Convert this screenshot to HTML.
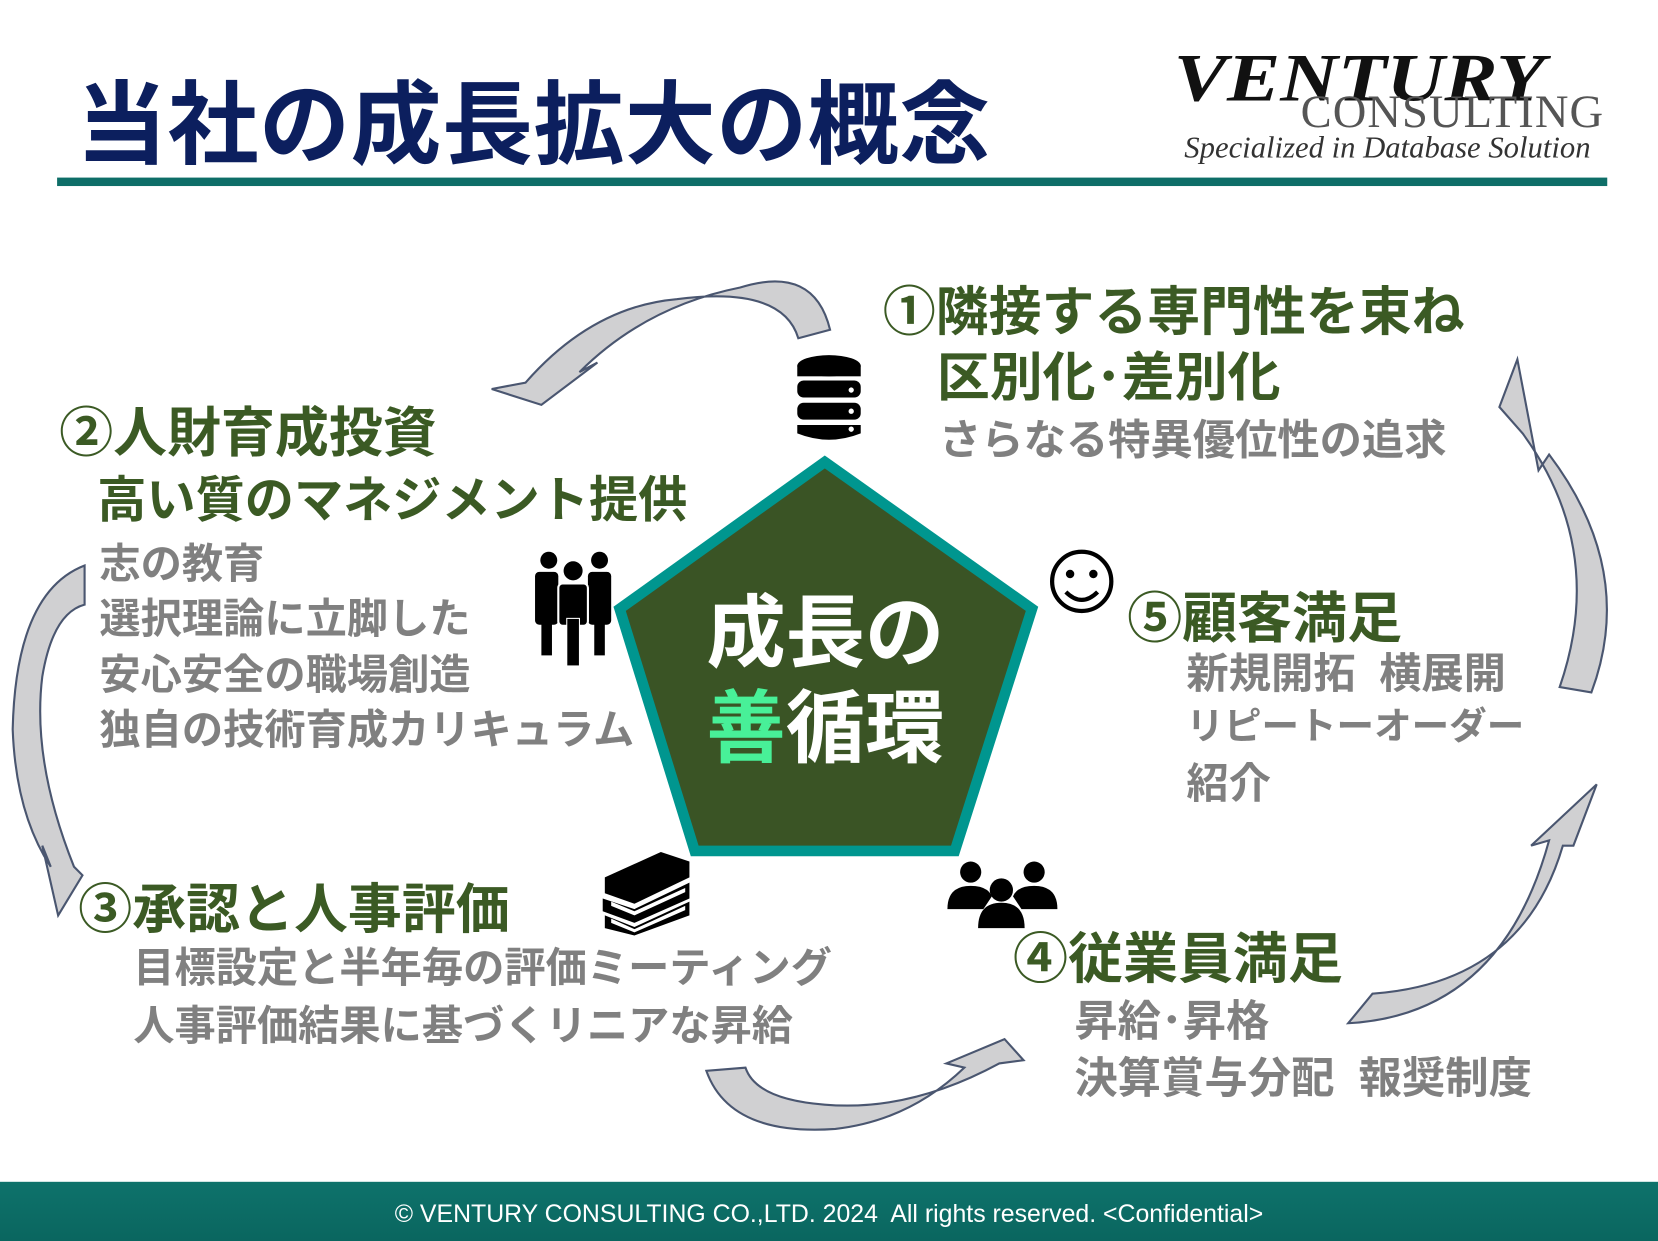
<!DOCTYPE html>
<html><head><meta charset="utf-8"><style>
html,body{margin:0;padding:0;background:#fff;width:1658px;height:1241px;overflow:hidden}
#s{position:absolute;left:0;top:0;width:1568px;height:1174px;transform:scale(1.05740,1.05707);transform-origin:0 0}
.t{position:absolute;white-space:nowrap;font-family:"Liberation Sans","Noto Sans CJK JP",sans-serif;font-weight:bold;line-height:1}
.g{color:#3b5a24}
.y{color:#808080}
</style></head><body><div id="s">
<div class="t" style="left:72px;top:76px;font-size:86px;color:#0c1f5e;letter-spacing:0.5px">当社の成長拡大の概念</div>
<div class="t" style="left:1110px;top:42px;font-size:64px;font-family:'Liberation Serif',serif;font-style:italic;color:#111;transform:scaleX(1.18);transform-origin:0 0">VENTURY</div>
<div class="t" style="left:1230px;top:84px;font-size:44px;font-family:'Liberation Serif',serif;font-weight:normal;color:#555;letter-spacing:1px">CONSULTING</div>
<div class="t" style="left:1120px;top:126px;font-size:29px;font-family:'Liberation Serif',serif;font-style:italic;font-weight:normal;color:#333">Specialized in Database Solution</div>
<div style="position:absolute;left:54px;top:168px;width:1466px;height:8px;background:#0e6e68"></div>

<svg style="position:absolute;left:0;top:0" width="1568" height="1174">
<g fill="#d0d0d2" stroke="#4a5670" stroke-width="2">
<path d="M785,312 Q770,250 700,272 Q610,290 548,352 L565,343 L512,383 L465,368 L497,362 Q560,290 640,283 Q740,270 755,320 Z"/>
<path d="M80,535 Q15,560 12,690 Q15,770 48,820 L40,800 L55,866 L78,828 L70,820 Q30,720 40,640 Q50,580 80,572 Z"/>
<path d="M668,1013 Q690,1075 790,1068 Q860,1060 912,1010 L895,1006 L950,983 L968,1003 L945,1006 Q860,1052 780,1045 Q715,1040 705,1010 Z"/>
<path d="M1275,968 Q1420,960 1465,795 L1448,800 L1510,742 L1488,800 L1478,800 Q1440,930 1298,940 Z"/>
<path d="M1505,655 Q1548,540 1465,430 L1455,445 L1435,340 L1418,385 L1440,410 Q1520,520 1475,650 Z"/>
</g>
<polygon points="780,437 976,576 903,805 657,805 586,576" fill="#3a5425" stroke="#00968f" stroke-width="10"/>
<g fill="#000">
<ellipse cx="784" cy="346" rx="30" ry="10"/>
<rect x="754" y="360" width="60" height="16" rx="6"/>
<rect x="754" y="381" width="60" height="16" rx="6"/>
<path d="M754,402 h60 v8 q-30,12 -60,0 z"/>
<rect x="754" y="346" width="60" height="10"/>
</g>
<g fill="#fff"><circle cx="805" cy="369" r="2.5"/><circle cx="805" cy="389" r="2.5"/><circle cx="805" cy="406" r="2.5"/></g>
<g fill="#000">
<circle cx="519" cy="530" r="8"/><circle cx="567" cy="530" r="8"/><circle cx="542" cy="540" r="9"/>
<rect x="506" y="541" width="22" height="50" rx="4"/><rect x="556" y="541" width="22" height="50" rx="4"/>
<rect x="528" y="552" width="28" height="40" rx="4" stroke="#fff" stroke-width="2"/>
<rect x="512" y="585" width="10" height="35"/><rect x="562" y="585" width="10" height="35"/>
<rect x="536" y="585" width="12" height="45" stroke="#fff" stroke-width="1"/>
</g>
<circle cx="1023" cy="550" r="28" fill="none" stroke="#000" stroke-width="4"/>
<circle cx="1012" cy="543" r="4"/><circle cx="1034" cy="543" r="4"/>
<path d="M1008,560 Q1023,575 1038,560" fill="none" stroke="#000" stroke-width="4"/>
<g fill="#000">
<path d="M572,830 L625,806 L652,815 L652,830 L600,855 L572,845 Z"/>
<path d="M570,850 L600,860 L652,835 L652,850 L600,873 L570,862 Z"/>
<path d="M572,866 L600,877 L652,853 L652,866 L600,885 L572,878 Z"/>
</g>
<g fill="#fff"><path d="M578,853 L600,862 L648,840 L648,844 L600,866 L578,857 Z"/><path d="M578,869 L600,879 L648,857 L648,861 L600,882 L578,873 Z"/></g>
<g fill="#000">
<circle cx="918" cy="825" r="10"/><circle cx="978" cy="825" r="10"/><circle cx="947" cy="842" r="11"/>
<path d="M896,860 q0,-22 22,-22 q16,0 20,10 L930,860 Z"/>
<path d="M1000,860 q0,-22 -22,-22 q-16,0 -20,10 L966,860 Z"/>
<path d="M925,878 q0,-24 22,-24 q22,0 22,24 Z"/>
</g>
</svg>

<div class="t" style="left:668px;top:562px;font-size:75px;color:#fff">成長の</div>
<div class="t" style="left:668px;top:652px;font-size:75px;color:#fff"><span style="color:#48f098">善</span>循環</div>

<div class="t g" style="left:835px;top:270px;font-size:50px">①隣接する専門性を束ね</div>
<div class="t g" style="left:886px;top:332px;font-size:50px">区別化･差別化</div>
<div class="t y" style="left:888px;top:397px;font-size:40px">さらなる特異優位性の追求</div>

<div class="t g" style="left:56px;top:384px;font-size:51px">②人財育成投資</div>
<div class="t g" style="left:92px;top:450px;font-size:46.5px">高い質のマネジメント提供</div>
<div class="t y" style="left:94px;top:515px;font-size:39px">志の教育</div>
<div class="t y" style="left:94px;top:567px;font-size:39px">選択理論に立脚した</div>
<div class="t y" style="left:94px;top:620px;font-size:39px">安心安全の職場創造</div>
<div class="t y" style="left:94px;top:672px;font-size:39px">独自の技術育成カリキュラム</div>

<div class="t g" style="left:74px;top:835px;font-size:51px">③承認と人事評価</div>
<div class="t y" style="left:126px;top:897px;font-size:39px">目標設定と半年毎の評価ミーティング</div>
<div class="t y" style="left:126px;top:952px;font-size:39px">人事評価結果に基づくリニアな昇給</div>

<div class="t g" style="left:958px;top:882px;font-size:52px">④従業員満足</div>
<div class="t y" style="left:1016px;top:946px;font-size:41px">昇給･昇格</div>
<div class="t y" style="left:1016px;top:1000px;font-size:41px">決算賞与分配&nbsp; 報奨制度</div>

<div class="t g" style="left:1066px;top:560px;font-size:52px">⑤顧客満足</div>
<div class="t y" style="left:1122px;top:618px;font-size:40px">新規開拓&nbsp; 横展開</div>
<div class="t y" style="left:1122px;top:670px;font-size:35.5px">リピートーオーダー</div>
<div class="t y" style="left:1122px;top:722px;font-size:40px">紹介</div>

<div style="position:absolute;left:0;top:1118px;width:1568px;height:56px;background:linear-gradient(#0e726b,#0a665f)"></div>
<div class="t" style="left:0;top:1137px;width:1568px;text-align:center;font-size:23.5px;font-weight:normal;color:#fff">© VENTURY CONSULTING CO.,LTD. 2024&nbsp; All rights reserved. &lt;Confidential&gt;</div>
</div></body></html>
